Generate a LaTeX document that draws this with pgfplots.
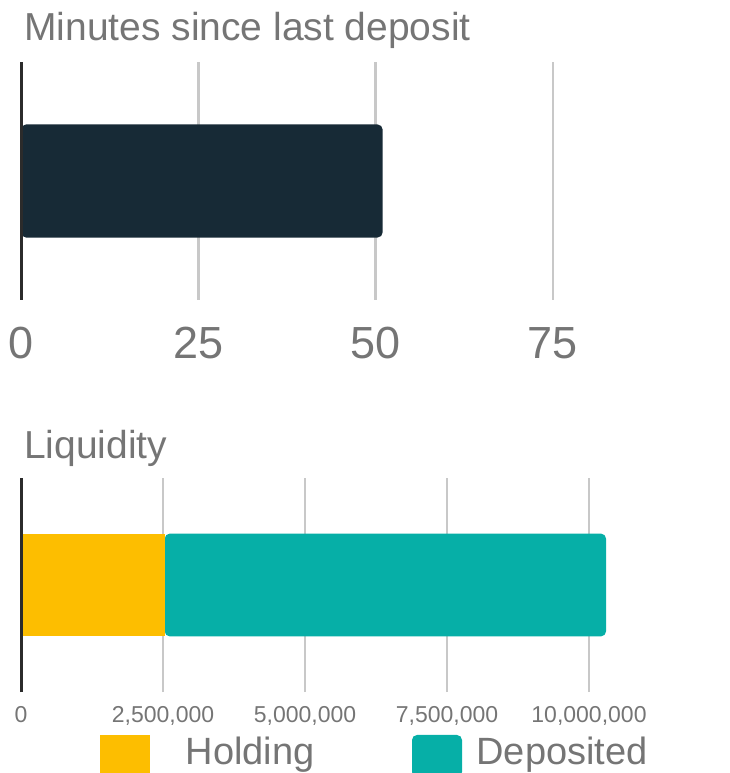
\documentclass[border=0pt]{standalone}
\usepackage{fontspec}
\setmainfont{Liberation Sans}
\usepackage{pgfplots}
\pgfplotsset{compat=1.18}
\definecolor{darkbar}{HTML}{172A36}
\definecolor{holding}{HTML}{FDBE00}
\definecolor{deposited}{HTML}{06AFA7}
\definecolor{gridc}{HTML}{C8C8C8}
\definecolor{txt}{HTML}{757575}
\definecolor{axisc}{HTML}{2B2B2B}
\begin{document}
\begin{tikzpicture}[x=1pt,y=1pt]
\useasboundingbox (0,0) rectangle (729,773);
% ---- top panel
\begin{axis}[
  at={(21pt,473pt)}, anchor=south west, scale only axis,
  width=709pt, height=238pt,
  xmin=0, xmax=100, ymin=-1, ymax=1,
  xbar, bar width=0.95,
  axis line style={draw=none},
  ytick=\empty, xtick={0,25,50,75},
  major tick length=0pt,
  xmajorgrids, grid style={gridc, line width=2.5pt},
  /pgf/number format/assume math mode=true,
  xticklabel style={font=\fontsize{45}{45}\selectfont, text=txt, inner sep=0pt, anchor=north, yshift=-27pt},
  title={Minutes since last deposit},
  title style={at={(axis description cs:0,1)}, anchor=base west, inner sep=0pt, xshift=3pt, yshift=15pt, font=\fontsize{39}{39}\selectfont, text=txt},
  clip=false,
  after end axis/.code={\draw[axisc, line width=3pt] (axis cs:0,-1) -- (axis cs:0,1);},
]
\addplot[fill=darkbar, draw=none, rounded corners=5pt] coordinates {(51,0)};
\end{axis}
% ---- bottom panel
\begin{axis}[
  at={(21pt,81pt)}, anchor=south west, scale only axis,
  width=710pt, height=214pt,
  xmin=0, xmax=12500000, ymin=-1, ymax=1,
  xbar stacked, bar width=0.96,
  axis line style={draw=none},
  ytick=\empty, xtick={0,2500000,5000000,7500000,10000000},
  scaled x ticks=false,
  major tick length=0pt,
  xmajorgrids, grid style={gridc, line width=2.5pt},
  /pgf/number format/.cd, fixed, 1000 sep={,}, assume math mode=true, /pgfplots/.cd,
  xticklabel style={font=\fontsize{23}{23}\selectfont, text=txt, inner sep=0pt, anchor=north, yshift=-14pt},
  title={Liquidity},
  title style={at={(axis description cs:0,1)}, anchor=base west, inner sep=0pt, xshift=3pt, yshift=13pt, font=\fontsize{39}{39}\selectfont, text=txt},
  clip=false,
  legend columns=2,
  legend style={at={(axis description cs:0.111,-0.200)}, anchor=north west, draw=none, fill=none,
    inner sep=0pt, column sep=0pt, font=\fontsize{38}{38}\selectfont, text=txt,
    nodes={inner sep=0pt},
    /tikz/every odd column/.append style={column sep=9pt},
    /tikz/every even column/.append style={column sep=71pt}},
  legend image code/.code={\fill[#1] (0pt,-26pt) rectangle (50pt,16pt);},
  after end axis/.code={\draw[axisc, line width=3pt] (axis cs:0,-1) -- (axis cs:0,1);},
]
\addplot[fill=holding, draw=none] coordinates {(2530000,0)};
\addlegendentry{\makebox[182pt]{Holding}}
\addplot[fill=deposited, draw=none, rounded corners=5pt] coordinates {(7770000,0)};
\addlegendentry{\makebox[182pt]{Deposited}}
\end{axis}
\end{tikzpicture}
\end{document}
